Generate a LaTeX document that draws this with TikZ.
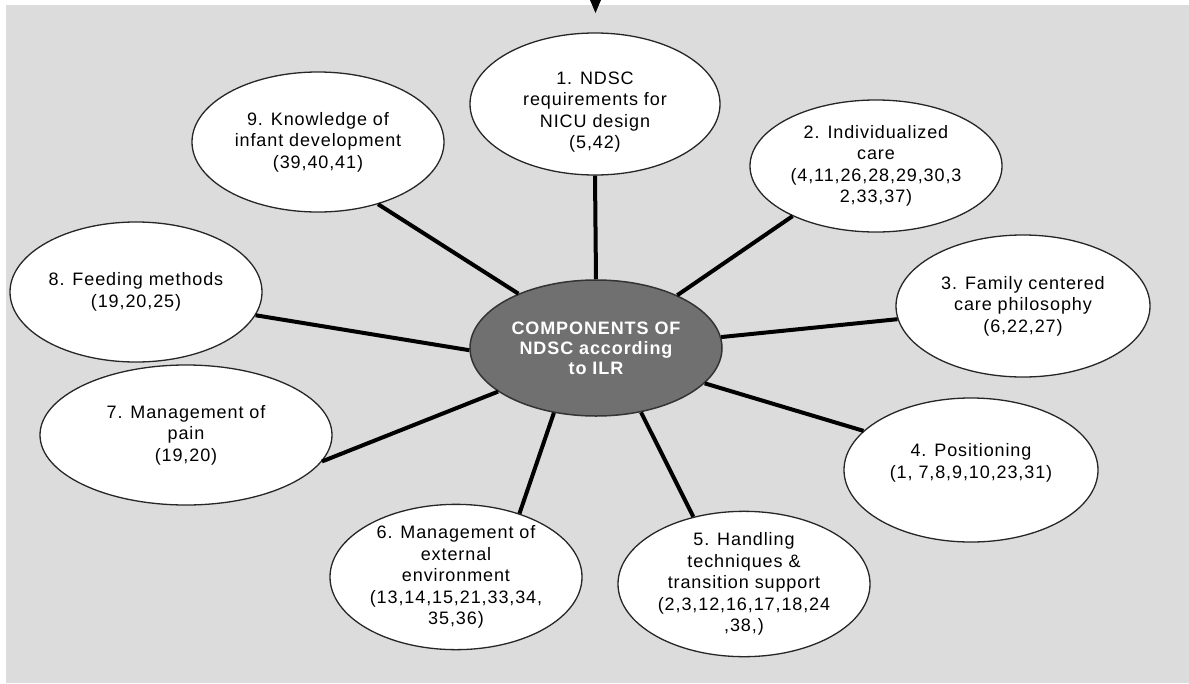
\documentclass[tikz,border=0pt]{standalone}
\usepackage{fontspec}
\setmainfont{Liberation Sans}[LetterSpace=5]
\usetikzlibrary{shapes.geometric}
\definecolor{bggrey}{RGB}{220,220,220}
\definecolor{hubgrey}{RGB}{112,112,112}
\begin{document}
\begin{tikzpicture}[x=1pt,y=-1pt,
  topic/.style={ellipse, draw=black!85, line width=1.3pt, fill=white,
    inner sep=0pt, minimum width=252pt, minimum height=140pt, align=center,
    font=\fontsize{18}{21.5}\selectfont},
  topictext/.style={inner sep=0pt, align=center,
    font=\fontsize{18}{21.5}\selectfont},
  hub/.style={ellipse, draw=black!80, line width=1.5pt, fill=hubgrey,
    inner sep=0pt, minimum width=252pt, minimum height=136pt, align=center,
    text=white, font=\bfseries\fontsize{18}{20}\selectfont},
  spoke/.style={line width=4pt, black}]
\useasboundingbox (0,0) rectangle (1189,683);
% panel background
\fill[bggrey] (6,5) rectangle (1189,683);
% pointer at the top edge
\fill[black] (590,0) -- (601,0) -- (595.5,13) -- cycle;

% hub
\node[hub] (c) at (596,348) {COMPONENTS OF\\NDSC according\\to ILR};

% components
\node[topic, minimum width=250pt, minimum height=142pt] (e1) at (595,104) {};
\node[topictext] (e1t) at (595,112)
  {1. NDSC\\requirements for\\NICU design\\(5,42)};
\node[topic, minimum height=132pt] (e2) at (876,166)
  {2. Individualized\\care\\(4,11,26,28,29,30,3\\2,33,37)};
\node[topic, minimum width=254pt, minimum height=142pt] (e3) at (1023,306)
  {3. Family centered\\care philosophy\\(6,22,27)};
\node[topic, minimum width=254pt, minimum height=144pt] (e4) at (971,470) {};
\node[topictext] (e4t) at (971,463)
  {4. Positioning\\(1, 7,8,9,10,23,31)};
\node[topic] (e5) at (744,584)
  {5. Handling\\techniques \&\\transition support\\(2,3,12,16,17,18,24\\,38,)};
\node[topic, minimum height=142pt] (e6) at (456,577)
  {6. Management of\\external\\environment\\(13,14,15,21,33,34,\\35,36)};
\node[topic, minimum width=292pt] (e7) at (186,435)
  {7. Management of\\pain\\(19,20)};
\node[topic] (e8) at (136,292)
  {8. Feeding methods\\(19,20,25)};
\node[topic] (e9) at (318,142)
  {9. Knowledge of\\infant development\\(39,40,41)};

% spokes
\draw[spoke] (c.north) -- (e1.south);
\draw[spoke] (c.33.2) -- (e2.211.2);
\draw[spoke] (c.5.9) -- (e3.186.3);
\draw[spoke] (c.-18.3) -- (e4.160.8);
\draw[spoke] (c.-55.5) -- (e5.127);
\draw[spoke] (c.-123.5) -- (e6.45.4);
\draw[spoke] (c.-156.6) -- (e7.-11);
\draw[spoke] (c.181) -- (e8.-11.7);
\draw[spoke] (c.145.8) -- (e9.-46.4);
\end{tikzpicture}
\end{document}
